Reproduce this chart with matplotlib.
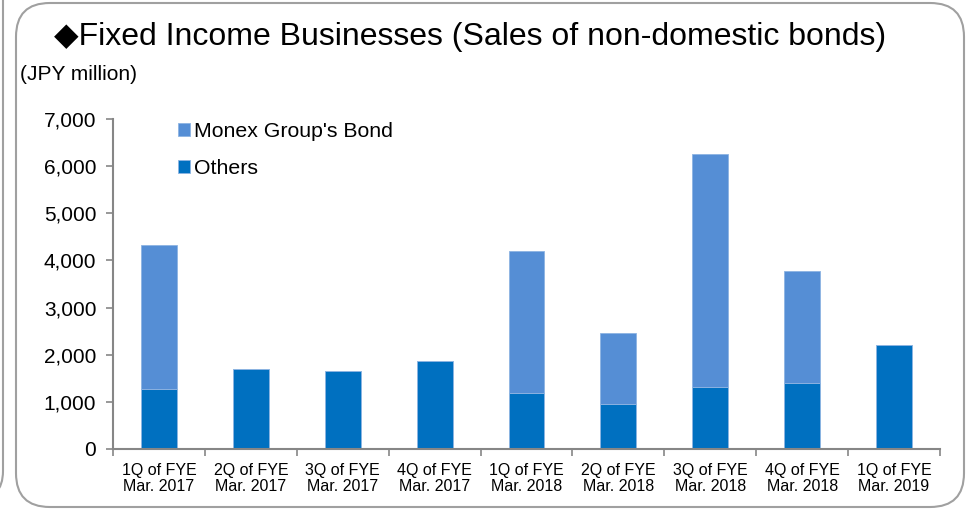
import matplotlib
matplotlib.use("Agg")
import matplotlib.pyplot as plt
from matplotlib.patches import FancyBboxPatch
import numpy as np

plt.rcParams['font.family'] = ['Liberation Sans', 'DejaVu Sans']

categories = ["1Q of FYE\nMar. 2017", "2Q of FYE\nMar. 2017", "3Q of FYE\nMar. 2017",
              "4Q of FYE\nMar. 2017", "1Q of FYE\nMar. 2018", "2Q of FYE\nMar. 2018",
              "3Q of FYE\nMar. 2018", "4Q of FYE\nMar. 2018", "1Q of FYE\nMar. 2019"]
others = [1270, 1700, 1650, 1870, 1190, 950, 1320, 1405, 2210]
monex_bond = [3050, 0, 0, 0, 3000, 1510, 4940, 2365, 0]
yticks = [0, 1000, 2000, 3000, 4000, 5000, 6000, 7000]

W, H = 966, 509
fig = plt.figure(figsize=(W / 100, H / 100), dpi=100)

def fx(px):
    return px / W

def fy(py):
    return 1 - py / H

# rounded frames
box = FancyBboxPatch((fx(16), fy(507)), fx(964) - fx(16), fy(3) - fy(507),
                     boxstyle="round,pad=0,rounding_size=0.035",
                     transform=fig.transFigure, facecolor='white',
                     edgecolor='#a0a0a0', linewidth=1.5, mutation_aspect=W / H,
                     zorder=-5)
fig.patches.append(box)
box2 = FancyBboxPatch((fx(-200), fy(500)), fx(3) - fx(-200), fy(-40) - fy(500),
                      boxstyle="round,pad=0,rounding_size=0.03",
                      transform=fig.transFigure, facecolor='none',
                      edgecolor='#a0a0a0', linewidth=1.5, mutation_aspect=W / H,
                      zorder=-5)
fig.patches.append(box2)

ax = fig.add_axes([fx(113), fy(449), fx(940) - fx(113), fy(119) - fy(449)])
ax.set_zorder(2)
ax.set_facecolor('none')
x = np.arange(len(categories))
bw = 0.39
ax.bar(x, others, bw, color='#0070C0', edgecolor='#8db4e2', linewidth=0.6,
       label='Others', zorder=2)
ax.bar(x, monex_bond, bw, bottom=others, color='#558ED5', edgecolor='#8db4e2',
       linewidth=0.6, label="Monex Group's Bond", zorder=2)

ax.set_xlim(-0.5, len(categories) - 0.5)
ax.set_ylim(0, 7000)
ax.set_yticks(yticks)
ax.set_yticklabels([f"{v:,}" for v in yticks], fontsize=15)
ax.set_xticks(x)
ax.set_xticklabels(categories, fontsize=11.5, linespacing=1.1)
ax.set_xticks(np.arange(-0.5, len(categories)), minor=True)
ax.tick_params(axis='x', which='major', length=0, pad=10)
ax.tick_params(axis='x', which='minor', length=5, width=1.2, color='#868686', direction='out')
ax.tick_params(axis='y', length=5, width=1.2, color='#868686', pad=7)
for s in ['top', 'right']:
    ax.spines[s].set_visible(False)
for s in ['left', 'bottom']:
    ax.spines[s].set_color('#868686')
    ax.spines[s].set_linewidth(1.5)

handles, labels = ax.get_legend_handles_labels()
leg = ax.legend(handles[::-1], labels[::-1], loc='upper left',
                bbox_to_anchor=(fx(189) - fx(113), 1 - (122 - 119) / 330),
                bbox_transform=ax.transAxes, frameon=False, fontsize=15.3,
                handlelength=0.55, handleheight=0.55, handletextpad=0.2,
                labelspacing=0.85, borderaxespad=0, borderpad=0)

fig.text(fx(470), fy(45), "◆Fixed Income Businesses (Sales of non-domestic bonds)",
         ha='center', va='baseline', fontsize=23)
fig.text(fx(20), fy(75), "(JPY million)", ha='left', va='center', fontsize=15)

fig.savefig("out.png", dpi=100)
